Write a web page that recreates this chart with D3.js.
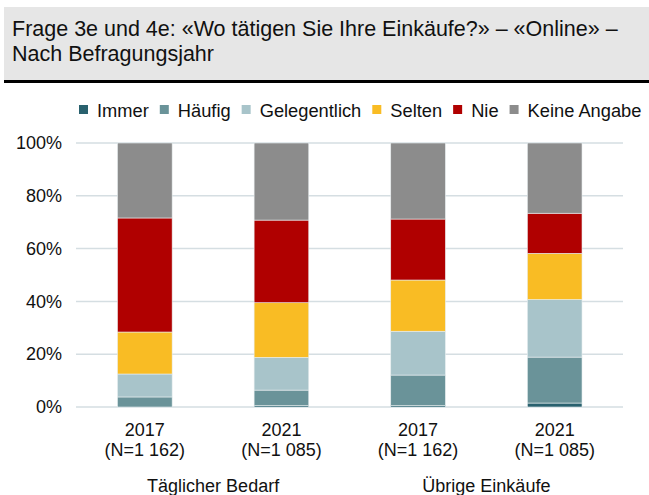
<!DOCTYPE html>
<html>
<head>
<meta charset="utf-8">
<script src="https://cdn.jsdelivr.net/npm/d3@7"></script>
<style>
  body { margin: 0; background: #fff; }
  svg { display: block; font-family: "Liberation Sans", Arial, sans-serif; }
</style>
</head>
<body>
<svg width="649" height="495"></svg>
<script>
// categories and values (percent)
const years = ["2017", "2021", "2017", "2021"];
const sampleSizes = ["(N=1 162)", "(N=1 085)", "(N=1 162)", "(N=1 085)"];
const groups = ["Täglicher Bedarf", "Übrige Einkäufe"];
const seriesNames = ["Immer", "Häufig", "Gelegentlich", "Selten", "Nie", "Keine Angabe"];
const immer = [0, 0.5, 0.5, 1.5];
const haeufig = [3.8, 5.9, 11.6, 17.4];
const gelegentlich = [8.7, 12.4, 16.6, 21.8];
const selten = [15.9, 20.7, 19.4, 17.5];
const nie = [43.2, 31.3, 23.1, 15.2];
const keineAngabe = [28.4, 29.2, 28.8, 26.6];
const yTicks = [0, 20, 40, 60, 80, 100];

const colors = ["#29616e", "#6a9399", "#a8c4ca", "#f9bc24", "#b00000", "#8c8c8c"];

const svg = d3.select("svg"),
    width = +svg.attr("width");

// header box
svg.append("rect").attr("x", 4).attr("y", 7).attr("width", width - 4).attr("height", 74)
    .attr("fill", "#e6e6e6");
svg.append("rect").attr("x", 4).attr("y", 80).attr("width", width - 4).attr("height", 3)
    .attr("fill", "#000");
svg.append("text").attr("x", 12).attr("y", 36).attr("font-size", 21.5).attr("fill", "#111")
    .text("Frage 3e und 4e: «Wo tätigen Sie Ihre Einkäufe?» – «Online» –");
svg.append("text").attr("x", 12).attr("y", 61).attr("font-size", 21.5).attr("fill", "#111")
    .text("Nach Befragungsjahr");

// build rows for the stack
const cols = [immer, haeufig, gelegentlich, selten, nie, keineAngabe];
const rows = years.map((y, i) => {
    const r = { idx: i };
    seriesNames.forEach((s, k) => r[s] = cols[k][i]);
    return r;
});
const stacked = d3.stack().keys(seriesNames)(rows);

const x = d3.scaleBand().domain(d3.range(years.length)).range([76.5, 623])
    .paddingInner(0.6).paddingOuter(0.3);
const y = d3.scaleLinear().domain([0, 100]).range([407, 143]);

// gridlines
svg.append("g").selectAll("line").data(yTicks).join("line")
    .attr("x1", 76).attr("x2", 623)
    .attr("y1", d => y(d)).attr("y2", d => y(d))
    .attr("stroke", "#d5dee2").attr("stroke-width", 1.5);

// y axis labels
const yAxis = svg.append("g").attr("transform", "translate(62,0)")
    .call(d3.axisLeft(y).tickValues(yTicks).tickFormat(d => d + "%").tickSize(0).tickPadding(0));
yAxis.select(".domain").remove();
yAxis.selectAll("text").attr("font-size", 18).attr("fill", "#111")
    .attr("font-family", "Liberation Sans, Arial, sans-serif");

// bars
svg.append("g").selectAll("g").data(stacked).join("g")
    .attr("fill", (d, i) => colors[i])
    .selectAll("rect").data(d => d).join("rect")
      .attr("x", d => x(d.data.idx))
      .attr("width", x.bandwidth())
      .attr("y", d => y(d[1]))
      .attr("height", d => Math.max(0, y(d[0]) - y(d[1])))
      .attr("stroke", "#e8eef0").attr("stroke-width", 0.6);

// x labels
const cx = i => x(i) + x.bandwidth() / 2;
const xl = svg.append("g").selectAll("text").data(years).join("text")
    .attr("text-anchor", "middle").attr("font-size", 18).attr("fill", "#111");
xl.append("tspan").attr("x", (d, i) => cx(i)).attr("y", 436).text(d => d);
xl.append("tspan").attr("x", (d, i) => cx(i)).attr("y", 456).text((d, i) => sampleSizes[i]);

svg.append("g").selectAll("text").data(groups).join("text")
    .attr("text-anchor", "middle").attr("font-size", 18).attr("fill", "#111")
    .attr("x", (d, i) => (cx(i * 2) + cx(i * 2 + 1)) / 2)
    .attr("y", 492)
    .text(d => d);

// legend
const legend = svg.append("g").attr("transform", "translate(79,110)");
let lx = 0;
seriesNames.forEach((s, i) => {
    const g = legend.append("g").attr("transform", `translate(${lx},0)`);
    g.append("rect").attr("x", 0).attr("y", -5).attr("width", 9).attr("height", 9).attr("fill", colors[i]);
    const t = g.append("text").attr("x", 18).attr("y", 6.5).attr("font-size", 18.3).attr("fill", "#111").text(s);
    lx += 18 + t.node().getComputedTextLength() + 11;
});
</script>
</body>
</html>
